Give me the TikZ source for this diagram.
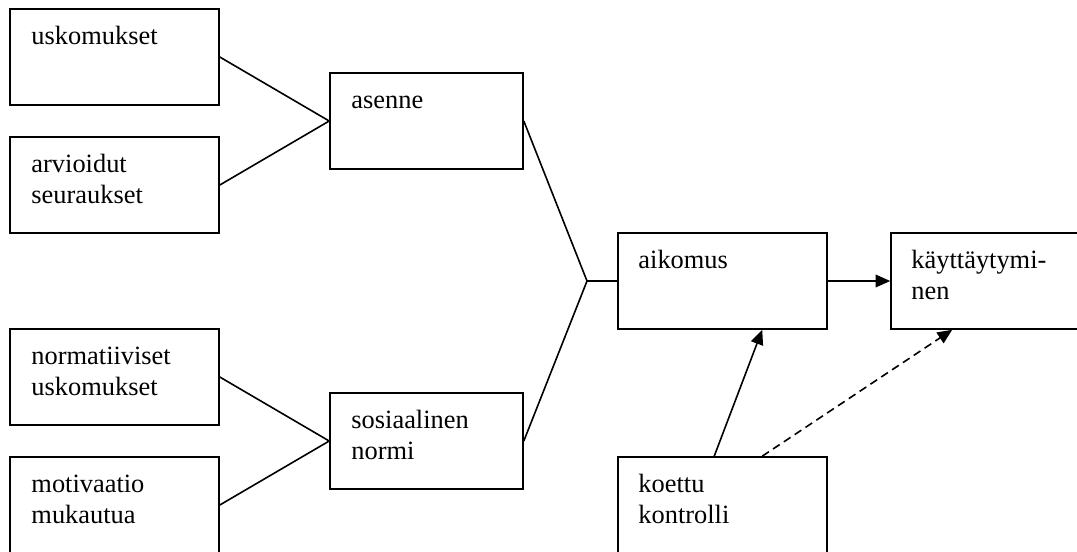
\documentclass[tikz,border=0pt]{standalone}
\usepackage{fontspec}
\setmainfont{Liberation Serif}
\usetikzlibrary{arrows.meta,calc}
\begin{document}
\begin{tikzpicture}[x=0.75pt,y=-0.75pt,
  box/.style={draw,line width=1.2pt,minimum width=156.75pt,minimum height=72pt,inner sep=0pt},
  wbox/.style={box,minimum width=144.75pt},
  lbl/.style={anchor=base west,inner sep=0pt,font=\fontsize{19.8}{23.25}\selectfont},
  conn/.style={line width=1.2pt},
  arr/.style={conn,-{Triangle[length=11pt,width=9.5pt]}},
]
\useasboundingbox (0,0) rectangle (1077,551);
\clip (0,0) rectangle (1077,551);
% boxes
\node[box] (usk) at (114.5,57) {};
\node[box] (arv) at (114.5,185) {};
\node[wbox] (ase) at (426.5,121) {};
\node[box] (nor) at (114.5,377) {};
\node[box] (mot) at (114.5,505) {};
\node[wbox] (sos) at (426.5,441) {};
\node[box] (aik) at (722.5,281) {};
\node[box] (kay) at (995.5,281) {};
\node[box] (koe) at (722.5,505) {};
% labels
\node[lbl] (uskT) at ($(usk.north west)+(22,36)$) {uskomukset};
\node[lbl] (arvT) at ($(arv.north west)+(22,36)$) {\parbox[t]{150pt}{arvioidut\\seuraukset}};
\node[lbl] (aseT) at ($(ase.north west)+(22,36)$) {asenne};
\node[lbl] (norT) at ($(nor.north west)+(22,36)$) {\parbox[t]{150pt}{normatiiviset\\uskomukset}};
\node[lbl] (motT) at ($(mot.north west)+(22,36)$) {\parbox[t]{150pt}{motivaatio\\mukautua}};
\node[lbl] (sosT) at ($(sos.north west)+(22,36)$) {\parbox[t]{140pt}{sosiaalinen\\normi}};
\node[lbl] (aikT) at ($(aik.north west)+(21,36)$) {aikomus};
\node[lbl] (kayT) at ($(kay.north west)+(21,36)$) {\parbox[t]{150pt}{käyttäytymi-\\nen}};
\node[lbl] (koeT) at ($(koe.north west)+(21,36)$) {\parbox[t]{150pt}{koettu\\kontrolli}};
% connectors
\coordinate (j) at (587,281);
\draw[conn] (usk.east) -- (ase.west);
\draw[conn] (arv.east) -- (ase.west);
\draw[conn] (nor.east) -- (sos.west);
\draw[conn] (mot.east) -- (sos.west);
\draw[conn] (ase.east) -- (j) -- (aik.west);
\draw[conn] (sos.east) -- (j);
\draw[arr] (aik.east) -- (kay.west);
\draw[arr] ($(koe.north west)+(97,0)$) -- ($(aik.south west)+(145,0)$);
\draw[arr,dash pattern=on 6pt off 3.75pt] ($(koe.north west)+(145,0)$) -- ($(kay.south west)+(62,0)$);
\end{tikzpicture}
\end{document}
